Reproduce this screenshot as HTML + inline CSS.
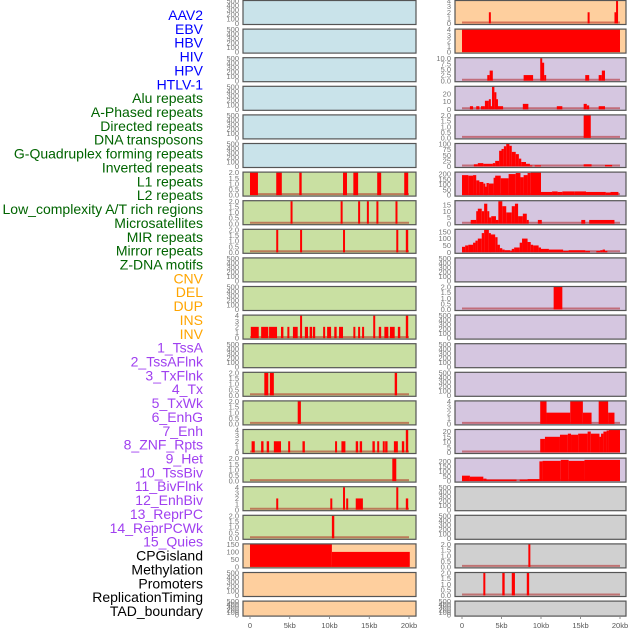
<!DOCTYPE html>
<html><head><meta charset="utf-8">
<style>
html,body{margin:0;padding:0;background:#fff;}
body{width:630px;height:630px;overflow:hidden;}
svg{display:block;font-family:"Liberation Sans",sans-serif;}
</style></head>
<body>
<svg id="chart" width="630" height="630"></svg>
<script>
const labels=["AAV2","EBV","HBV","HIV","HPV","HTLV-1","Alu repeats","A-Phased repeats","Directed repeats","DNA transposons","G-Quadruplex forming repeats","Inverted repeats","L1 repeats","L2 repeats","Low_complexity A/T rich regions","Microsatellites","MIR repeats","Mirror repeats","Z-DNA motifs","CNV","DEL","DUP","INS","INV","1_TssA","2_TssAFlnk","3_TxFlnk","4_Tx","5_TxWk","6_EnhG","7_Enh","8_ZNF_Rpts","9_Het","10_TssBiv","11_BivFlnk","12_EnhBiv","13_ReprPC","14_ReprPCWk","15_Quies","CPGisland","Methylation","Promoters","ReplicationTiming","TAD_boundary"];
const labelColors=["#0000ff","#0000ff","#0000ff","#0000ff","#0000ff","#0000ff","#006400","#006400","#006400","#006400","#006400","#006400","#006400","#006400","#006400","#006400","#006400","#006400","#006400","#ffa500","#ffa500","#ffa500","#ffa500","#ffa500","#a040f0","#a040f0","#a040f0","#a040f0","#a040f0","#a040f0","#a040f0","#a040f0","#a040f0","#a040f0","#a040f0","#a040f0","#a040f0","#a040f0","#a040f0","#000","#000","#000","#000","#000"];
const xTickVals=[0,5,10,15,20];
const xTickLabels=["0","5kb","10kb","15kb","20kb"];
// per-row background letters: b=blue g=green o=orange p=purple k=grey
const bgLeft="bbbbbbgggggggggggggooo";
const bgRight="oopppppppppppppppppkkkkk".slice(0,22).replace(/./g,(c,i)=>i<2?"o":(i<17?"p":"k"));
const ymaxLeft=[500,500,500,500,500,500,2,2,2,500,500,4,500,2,2,4,2,4,2,150,500,500];
const ymaxRight=[4,4,10,29,2,100,214,18,164,500,2,500,500,500,4,21.5,228,500,500,2,2,500];
// segments [startKb,endKb,value]
const L6=[[0,1,2],[3.3,4,2],[6.2,6.5,2],[11.7,12.2,2],[13,13.6,2],[16,16.5,2],[19.4,19.9,2]];
const L7=[[5.1,5.35,2],[11.4,11.65,2],[13.6,13.85,2],[14.7,14.95,2],[15.9,16.15,2],[18.3,18.55,2]];
const L8=[[3.3,3.55,2],[6.3,6.55,2],[11.7,11.95,2],[18.4,18.65,2],[19.6,19.9,2]];
const L11=[[0.1,1.1,2],[1.4,2.3,2],[2.4,3.4,2],[3.9,4.2,2],[4.7,4.9,2],[5.4,6.0,2],[6.3,6.5,4],[6.9,7.3,2],[7.5,7.8,2],[7.9,8.2,2],[9.2,9.4,2],[9.7,10.2,2],[10.6,10.9,2],[11.2,11.7,2],[13,13.2,2],[13.6,13.8,2],[14.1,14.3,2],[15.5,15.7,4],[16.2,16.5,2],[16.9,17.4,2],[17.6,18.2,2],[18.6,18.9,2],[19.6,19.9,4]];
const L13=[[1.8,2.3,2],[2.5,3.0,2],[18.2,18.5,2]];
const L14=[[6.0,6.4,2]];
const L15=[[0.2,0.6,2],[1.4,1.7,2],[2.1,2.4,2],[3.0,3.9,2],[4.8,5.0,2],[6.6,6.9,2],[10.7,10.9,2],[11.5,12.0,2],[13.3,13.6,2],[13.8,14.1,2],[15.4,15.7,2],[16.0,16.2,2],[16.7,16.9,2],[17.0,17.3,2],[18.1,18.6,2],[19.1,19.4,2],[19.6,19.9,4]];
const L16=[[17.9,18.4,2]];
const L17=[[3.3,3.5,2],[10.1,10.3,2],[11.7,11.9,4],[12.1,12.3,2],[13.3,14.2,2],[18.4,18.6,4],[19.6,19.9,2]];
const L18=[[10.3,10.6,2]];
const L19=[[0,10.3,150],[10.3,20.1,100]];
const R0=[[3.4,3.6,2],[15.9,16.1,2],[19.3,19.5,2],[19.5,19.7,4]];
const R1=[[0,20,4]];
const R2=[[3.2,3.5,2.5],[3.5,3.9,4.5],[7.8,9.0,2.5],[9.9,10.1,10],[10.1,10.4,8],[10.4,10.6,2.5],[15.6,16.1,2.5],[17.3,17.7,2.5],[17.7,18.1,4.5]];
const R3=[[1.0,1.4,4],[1.8,2.2,4],[2.4,2.9,4],[2.9,3.4,11],[3.4,3.6,13],[3.6,3.8,4],[3.8,4.1,29],[4.1,4.3,22],[4.3,4.5,13],[4.5,5.2,4],[7.7,8.4,7],[12.0,12.7,4],[15.4,15.8,7],[15.8,16.1,5],[17.3,18.1,4]];
const R4=[[15.4,16.3,2]];
const R5=[[1.5,2.0,10],[2.0,2.7,15],[2.7,3.9,12],[3.9,4.2,15],[4.2,4.7,25],[4.7,5.0,70],[5.0,5.3,78],[5.3,5.6,90],[5.6,6.0,100],[6.0,6.3,92],[6.3,6.8,65],[6.8,7.2,55],[7.2,7.5,35],[7.5,8.1,20],[8.1,8.6,12],[8.6,8.9,5],[9.2,10.0,5],[15.4,16.4,10],[18.1,19.0,7]];
const R6=[[0,0.8,190],[0.8,1.4,185],[1.4,1.8,190],[1.8,2.2,140],[2.2,2.7,125],[2.7,2.9,110],[2.9,3.1,80],[3.1,3.4,115],[3.4,4.0,110],[4.0,4.2,165],[4.2,4.9,185],[4.9,5.9,160],[5.9,6.8,200],[6.8,7.4,210],[7.4,7.8,170],[7.8,8.3,190],[8.3,8.7,210],[8.7,10.0,214],[10.0,11.4,30],[11.4,12.1,35],[12.1,12.7,30],[12.7,14.2,35],[14.2,15.7,35],[15.7,18.2,30],[18.2,18.8,25],[18.8,19.8,30]];
const R7=[[1.1,1.8,3],[1.8,2.0,10],[2.0,2.5,12],[2.5,2.8,10],[2.8,3.2,16],[3.2,3.4,10],[3.4,3.7,5],[3.7,4.3,6],[4.3,4.6,3],[4.6,5.1,18],[5.1,5.6,14],[5.6,6.3,9],[6.3,6.7,14],[6.7,7.1,16],[7.1,7.7,6],[7.7,8.2,8],[8.2,8.4,3],[9.6,10.1,3],[15.1,15.6,3],[16.1,19.3,3]];
const R8=[[0,0.4,40],[0.4,0.8,50],[0.8,1.4,55],[1.4,1.7,70],[1.7,2.0,85],[2.0,2.5,100],[2.5,2.8,140],[2.8,3.4,164],[3.4,3.6,140],[3.6,4.2,130],[4.2,4.5,110],[4.5,4.8,55],[4.8,5.1,30],[5.1,5.4,20],[5.4,6.1,15],[6.1,6.3,10],[6.3,6.6,25],[6.6,7.3,35],[7.3,7.6,70],[7.6,8.3,100],[8.3,8.7,75],[8.7,9.0,55],[9.0,9.7,50],[9.7,10.0,35],[10.0,11.0,25],[11.0,12.8,20],[12.8,13.5,10],[13.5,15.6,15],[15.6,16.2,10],[17.0,17.5,10],[17.5,17.8,15],[17.8,18.1,20],[18.1,18.4,10]];
const R10=[[11.6,12.7,2]];
const R14=[[9.9,10.7,4],[10.7,13.7,2],[13.7,15.3,4],[15.3,16.4,2],[17.3,18.5,4],[18.5,19.3,2]];
const R15=[[9.9,10.5,13],[10.5,12.4,15],[12.4,13.4,17],[13.4,13.8,18],[13.8,14.7,17],[14.7,15.9,18],[15.9,16.3,20],[16.3,17.4,18],[17.4,17.6,15],[17.6,17.9,18],[17.9,18.3,20],[18.3,18.6,21],[18.6,20,21.5]];
const R16=[[0,1.0,55],[1.0,2.7,45],[2.7,3.1,25],[3.1,6.9,15],[7.3,8.3,15],[8.3,9.8,20],[9.8,10.2,200],[10.2,12.5,205],[12.5,13.5,215],[13.5,15.5,205],[15.5,20,215]];
const R19=[[8.4,8.6,2]];
const R20=[[2.7,2.9,2],[5.1,5.4,2],[6.3,6.7,2],[8.2,8.5,2]];
const segsLeft={6:L6,7:L7,8:L8,11:L11,13:L13,14:L14,15:L15,16:L16,17:L17,18:L18,19:L19};
const segsRight={0:R0,1:R1,2:R2,3:R3,4:R4,5:R5,6:R6,7:R7,8:R8,10:R10,14:R14,15:R15,16:R16,19:R19,20:R20};

const NS="http://www.w3.org/2000/svg";
const svg=document.getElementById("chart");
function mk(tag,attrs,parent){const e=document.createElementNS(NS,tag);for(const k in attrs)e.setAttribute(k,attrs[k]);(parent||svg).appendChild(e);return e;}
const bgColor={b:"#c9e3ea",g:"#c9e0a2",o:"#fecf9e",p:"#d5c6e0",k:"#d0d0d0"};
const cols=[{px0:243,px1:416,x0:250,ppk:7.95,tickX:239,bg:bgLeft,ymax:ymaxLeft,segs:segsLeft,name:"left"},
            {px0:455,px1:626,x0:462,ppk:7.9,tickX:451,bg:bgRight,ymax:ymaxRight,segs:segsRight,name:"right"}];
function tickList(ym){
  if(ym===500)return [[0,"0"],[100,"100"],[200,"200"],[300,"300"],[400,"400"],[500,"500"]];
  if(ym===2)return [[0,"0.0"],[0.5,"0.5"],[1,"1.0"],[1.5,"1.5"],[2,"2.0"]];
  if(ym===4)return [[0,"0"],[1,"1"],[2,"2"],[3,"3"],[4,"4"]];
  if(ym===10)return [[0,"0.0"],[2.5,"2.5"],[5,"5.0"],[7.5,"7.5"],[10,"10.0"]];
  if(ym===150)return [[0,"0"],[50,"50"],[100,"100"],[150,"150"]];
  if(ym===29)return [[0,"0"],[10,"10"],[20,"20"]];
  if(ym===100)return [[0,"0"],[25,"25"],[50,"50"],[75,"75"],[100,"100"]];
  if(ym===214)return [[0,"0"],[50,"50"],[100,"100"],[150,"150"],[200,"200"]];
  if(ym===18)return [[0,"0"],[5,"5"],[10,"10"],[15,"15"]];
  if(ym===164)return [[0,"0"],[50,"50"],[100,"100"],[150,"150"]];
  if(ym===21.5)return [[0,"0"],[5,"5"],[10,"10"],[15,"15"],[20,"20"]];
  if(ym===228)return [[0,"0"],[50,"50"],[100,"100"],[150,"150"],[200,"200"]];
  return [[0,"0"],[ym,String(ym)]];
}
// labels
labels.forEach((t,i)=>{
  const e=mk("text",{x:203,y:20+i*13.86,"text-anchor":"end","font-size":"14",fill:labelColors[i]});
  
  
  e.textContent=t;
});
cols.forEach(c=>{
  const xs=kb=>c.x0+kb*c.ppk;
  for(let r=0;r<22;r++){
    const top=r*28.6, h=(r===21)?16:25;
    const y0=top+h-1.5, yTop=top+1;
    const ym=c.ymax[r];
    const ys=v=>y0-(Math.min(v,ym)/ym)*(y0-yTop);
    const g=mk("g",{});
    
    
    mk("rect",{x:c.px0,y:top+0.5,width:c.px1-c.px0,height:h-1,fill:bgColor[c.bg[r]]},g);
    const segs=c.segs[r];
    if(segs){
      mk("line",{x1:xs(0),x2:xs(20),y1:y0-1,y2:y0-1,stroke:"rgba(170,0,0,0.45)","stroke-width":2},g);
      segs.forEach(s=>{
        let x1=xs(s[0]),x2=xs(s[1]);if(x2-x1<2)x2=x1+2;
        const b=mk("rect",{x:x1,y:ys(s[2]),width:x2-x1,height:y0-ys(s[2]),fill:"#ff0000"},g);
        
        
      });
    }
    mk("rect",{x:c.px0,y:top+0.5,width:c.px1-c.px0,height:h-1,fill:"none",stroke:"#555","stroke-width":1.2},g);
    tickList(ym).forEach(tk=>{
      const t=mk("text",{x:c.tickX,y:ys(tk[0])+2.6,"text-anchor":"end","font-size":"7.5",fill:"#777"},g);
      
      
      t.textContent=tk[1];
    });
  }
  xTickVals.forEach((v,i)=>{
    mk("line",{x1:xs(v),x2:xs(v),y1:617,y2:619,stroke:"#777","stroke-width":0.8});
    const t=mk("text",{x:xs(v),y:628,"text-anchor":"middle","font-size":"7.5",fill:"#555"});
    
    
    t.textContent=xTickLabels[i];
  });
});
</script>
</body></html>
